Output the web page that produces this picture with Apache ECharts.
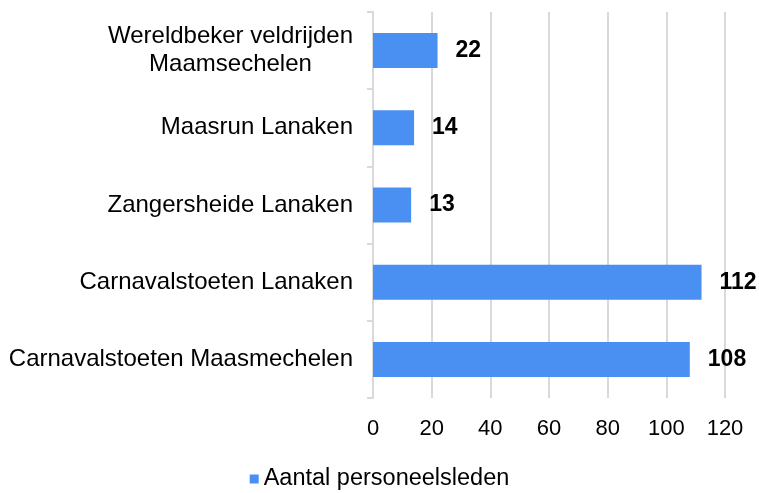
<!DOCTYPE html>
<html>
<head>
<meta charset="utf-8">
<script src="https://cdn.jsdelivr.net/npm/echarts@6/dist/echarts.min.js"></script>
<style>
  html, body { margin: 0; padding: 0; background: #fff; }
</style>
</head>
<body>
<div id="main" style="width:759px;height:493px"></div>
<script>
var categories = ['Carnavalstoeten Maasmechelen', 'Carnavalstoeten Lanaken', 'Zangersheide Lanaken', 'Maasrun Lanaken', 'Wereldbeker veldrijden\nMaamsechelen']
var values = [108, 112, 13, 14, 22]
var seriesName = 'Aantal personeelsleden'

var myChart = echarts.init(document.getElementById('main'))
var font = 'Liberation Sans, Arial, sans-serif'

var option = {
    animation: false,
    grid: { left: 373, right: 34, top: 12, bottom: 95, containLabel: false },
    legend: {
        data: [seriesName],
        top: 462,
        left: 'center',
        icon: 'rect',
        itemWidth: 9,
        itemHeight: 9,
        itemGap: 8,
        textStyle: { fontFamily: font, fontSize: 23.5, color: '#000' }
    },
    xAxis: {
        type: 'value',
        min: 0,
        max: 120,
        interval: 20,
        axisLine: { show: false },
        axisTick: { show: false },
        splitLine: { lineStyle: { color: '#d9d9d9', width: 2 } },
        axisLabel: { fontFamily: font, fontSize: 22, color: '#000', margin: 20 }
    },
    yAxis: {
        type: 'category',
        data: categories,
        axisLine: { lineStyle: { color: '#d9d9d9', width: 2 } },
        axisTick: { show: true, length: 6, lineStyle: { color: '#d9d9d9', width: 2 } },
        axisLabel: {
            fontFamily: font, fontSize: 24, color: '#000', margin: 20, align: 'right',
            formatter: function (v) {
                return v.split('\n').map(function (s) { return '{c|' + s + '}' }).join('\n')
            },
            rich: { c: { fontFamily: font, fontSize: 24, color: '#000', align: 'center', lineHeight: 28 } }
        }
    },
    series: [{
        name: seriesName,
        type: 'bar',
        data: values,
        barWidth: 35,
        itemStyle: { color: '#4a90f2' },
        label: { show: true, position: 'right', distance: 18, fontFamily: font, fontSize: 23, fontWeight: 'bold', color: '#000' }
    }]
};

myChart.setOption(option);
</script>
</body>
</html>
